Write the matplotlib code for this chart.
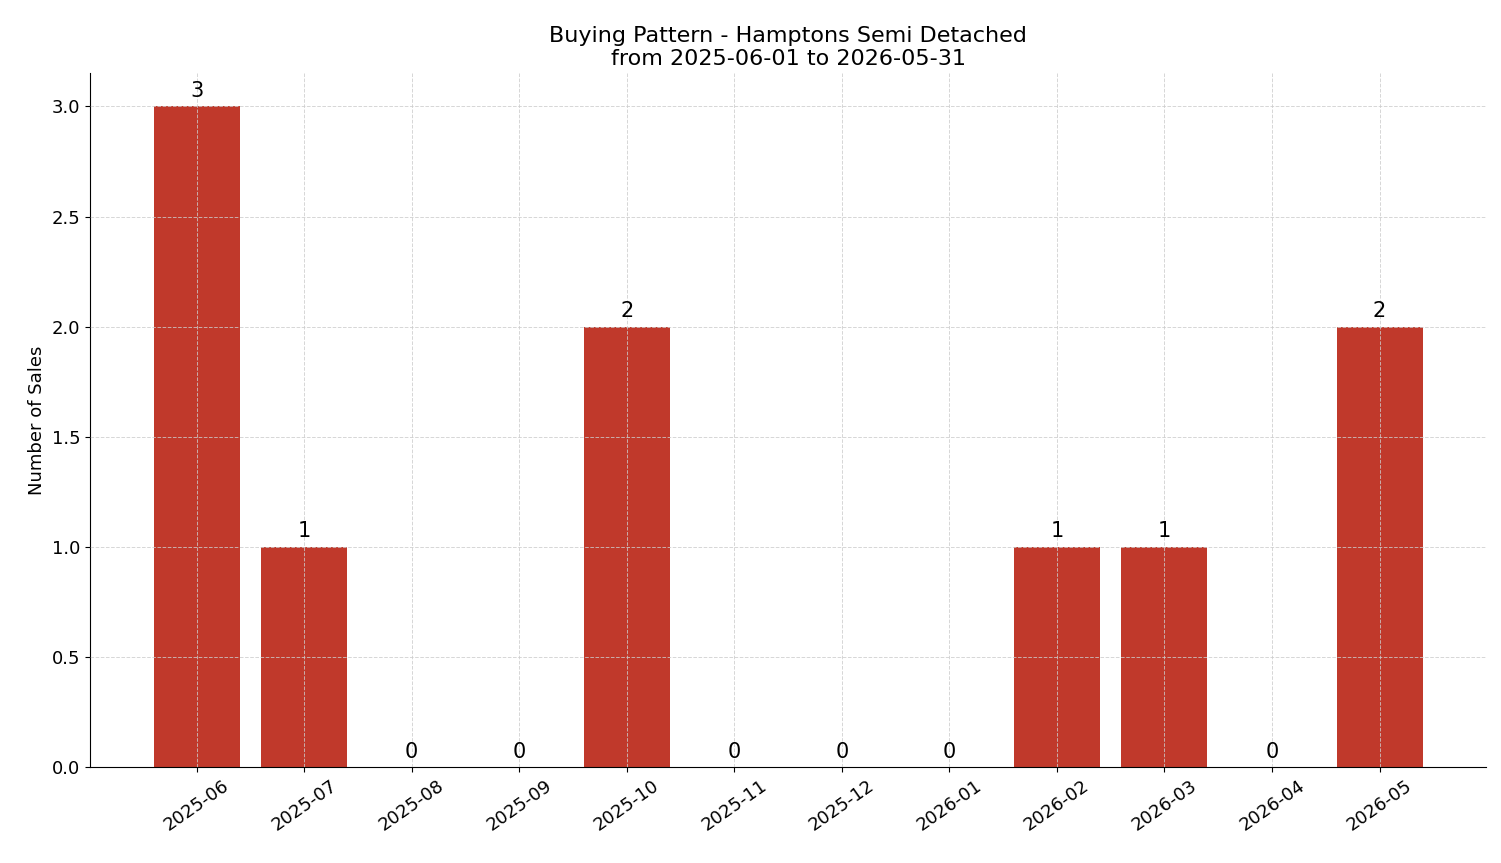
import matplotlib
matplotlib.use("Agg")
import matplotlib.pyplot as plt

months = ["2025-06","2025-07","2025-08","2025-09","2025-10","2025-11","2025-12","2026-01","2026-02","2026-03","2026-04","2026-05"]
sales = [3,1,0,0,2,0,0,0,1,1,0,2]

fig, ax = plt.subplots(figsize=(15.01, 8.63), dpi=100)
fig.subplots_adjust(left=0.06, right=0.99, top=0.915, bottom=0.111)
x = list(range(len(months)))
bars = ax.bar(x, sales, width=0.8, color="#c0392b", zorder=2)
for xi, v in zip(x, sales):
    ax.annotate(str(v), (xi, v), xytext=(0, 4), textcoords="offset points",
                ha="center", va="bottom", fontsize=15)
ax.set_xticks(x)
ax.set_xticklabels(months, rotation=35, fontsize=13)
ax.tick_params(axis="y", labelsize=13)
ax.set_ylim(0, 3.15)
ax.set_ylabel("Number of Sales", fontsize=13)
ax.set_title("Buying Pattern - Hamptons Semi Detached\nfrom 2025-06-01 to 2026-05-31", fontsize=16)
ax.grid(True, linestyle="--", color="#cccccc", alpha=0.8, linewidth=0.7, zorder=3)
ax.set_axisbelow(False)
for s in ["top", "right"]:
    ax.spines[s].set_visible(False)
fig.savefig("out.png", dpi=100)
